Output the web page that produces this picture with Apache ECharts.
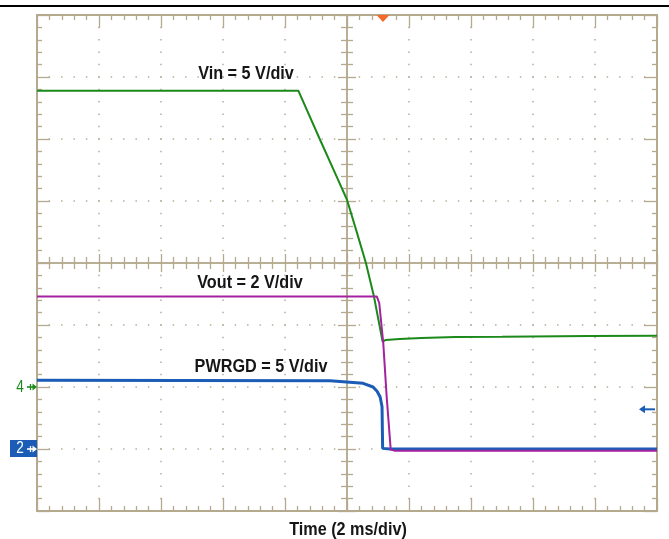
<!DOCTYPE html>
<html><head><meta charset="utf-8">
<script src="https://cdn.jsdelivr.net/npm/echarts@6.0.0/dist/echarts.min.js"></script>
<style>html,body{margin:0;padding:0;background:#fff}#c{width:669px;height:539px}</style>
</head><body><div id="c"></div>
<script>
// time in ms (0 = screen centre), values in screen divisions (0 = centre)
const vinTime  = [-10, -1.57, -0.88, -0.33, 0, 0.32, 0.61, 0.87, 1.15, 1.25, 1.7, 2.4, 3.5, 5, 7.8, 10];
const vinDiv   = [2.78, 2.78, 2.00, 1.39, 1.02, 0.49, 0.00, -0.54, -1.27, -1.24, -1.225, -1.21, -1.195, -1.19, -1.177, -1.173];
const voutTime = [-10, 0.96, 1.04, 1.17, 1.28, 1.41, 1.55, 10];
const voutDiv  = [-0.54, -0.54, -0.645, -1.29, -2.16, -3.01, -3.03, -3.03];
const pgTime   = [-10, -0.55, 0.52, 0.84, 0.97, 1.07, 1.13, 1.15, 1.39, 10];
const pgDiv    = [-1.89, -1.90, -1.94, -2.00, -2.07, -2.16, -2.32, -2.99, -3.0, -3.0];
const labels   = ['Vin = 5 V/div', 'Vout = 2 V/div', 'PWRGD = 5 V/div'];
const xTitle   = 'Time (2 ms/div)';
const ch4Ref = -2, ch2Ref = -3, trigLevel = -2.36, trigTime = 1.16;
const chLabels = ['4', '2'];

const zip = (a, b) => a.map((v, i) => [v, b[i]]);
const TAN = '#b5aa8e', DOT = '#b8af98';
const GREEN = '#1b8a1b', MAG = '#a3229f', BLUE = '#1b5cb6';

function xAx(pos, onZero, tickLen, minorLen, split) {
  return {
    type: 'value', min: -10, max: 10, interval: 2, position: pos,
    axisLine: { show: true, onZero: onZero, onZeroAxisIndex: onZero ? 0 : undefined, lineStyle: { color: TAN, width: onZero ? 1.5 : 2 } },
    axisTick: { show: true, inside: true, length: tickLen, lineStyle: { color: TAN, width: 1.3 } },
    minorTick: { show: true, splitNumber: 5, length: minorLen, lineStyle: { color: TAN, width: 1.3 } },
    splitLine: { show: split, lineStyle: { color: DOT, width: 1.5, type: [1.5, 10.9], dashOffset: 0.75 } },
    axisLabel: { show: false }
  };
}
function yAx(pos, onZero, tickLen, minorLen, split) {
  return {
    type: 'value', min: -4, max: 4, interval: 1, position: pos,
    axisLine: { show: true, onZero: onZero, onZeroAxisIndex: onZero ? 0 : undefined, lineStyle: { color: TAN, width: onZero ? 1.5 : 2 } },
    axisTick: { show: true, inside: true, length: tickLen, lineStyle: { color: TAN, width: 1.3 } },
    minorTick: { show: true, splitNumber: 5, length: minorLen, lineStyle: { color: TAN, width: 1.3 } },
    splitLine: { show: split, lineStyle: { color: DOT, width: 1.5, type: [1.5, 10.9], dashOffset: 0.75 } },
    axisLabel: { show: false }
  };
}

const chart = echarts.init(document.getElementById('c'), null, { renderer: 'canvas' });
chart.setOption({
  animation: false,
  backgroundColor: '#fff',
  grid: { left: 37, top: 15, width: 620, height: 496, outerBoundsMode: 'none', containLabel: false },
  xAxis: [xAx('bottom', false, 13, 5, true), xAx('top', false, 13, 5, false),
          xAx('bottom', true, 9, 6, false), xAx('top', true, 9, 6, false)],
  yAxis: [yAx('left', false, 13, 5, true), yAx('right', false, 13, 5, false),
          yAx('left', true, 9, 6, false), yAx('right', true, 9, 6, false)],
  series: [
    { name: 'Vin', type: 'line', data: zip(vinTime, vinDiv), showSymbol: false, symbol: 'none',
      lineStyle: { color: GREEN, width: 2 }, z: 3 },
    { name: 'PWRGD', type: 'line', data: zip(pgTime, pgDiv), showSymbol: false, symbol: 'none',
      lineStyle: { color: BLUE, width: 3 }, z: 4 },
    { name: 'Vout', type: 'line', data: zip(voutTime, voutDiv), showSymbol: false, symbol: 'none',
      lineStyle: { color: MAG, width: 2 }, z: 5 }
  ]
});

const px = (t, d) => chart.convertToPixel({ xAxisIndex: 0, yAxisIndex: 0 }, [t, d]);
const p4 = px(-10, ch4Ref), p2 = px(-10, ch2Ref), pT = px(10, trigLevel), pTop = px(trigTime, 4);
const lblFont = { fontFamily: 'Liberation Sans, Arial, sans-serif', fontWeight: 'bold', fontSize: 18, fill: '#161616' };
function lbl(text, x, y) {
  return { type: 'text', x: x, y: y, scaleX: 0.9, z: 20,
    style: Object.assign({ text: text, textAlign: 'center', textVerticalAlign: 'middle', align: 'center', verticalAlign: 'middle' }, lblFont) };
}
function arrowRight(x, y, color) {
  return [
    { type: 'line', shape: { x1: x - 10, y1: y, x2: x - 3, y2: y }, style: { stroke: color, lineWidth: 1.6 }, z: 20 },
    { type: 'line', shape: { x1: x - 6.5, y1: y - 3, x2: x - 6.5, y2: y + 3 }, style: { stroke: color, lineWidth: 1.3 }, z: 20 },
    { type: 'polygon', shape: { points: [[x, y], [x - 4.5, y - 3.5], [x - 4.5, y + 3.5]] }, style: { fill: color }, z: 20 }
  ];
}
const g = [
  { type: 'rect', shape: { x: 0, y: 5, width: 669, height: 2 }, style: { fill: '#000' }, z: 20 },
  lbl(labels[0], 246, 74), lbl(labels[1], 250, 283), lbl(labels[2], 261, 367), lbl(xTitle, 348, 530),
  { type: 'text', x: p4[0] - 17, y: p4[1] + 1, z: 20, scaleX: 0.85,
    style: { text: chLabels[0], fontSize: 16, fontFamily: 'Liberation Sans, Arial', fill: GREEN, textAlign: 'center', textVerticalAlign: 'middle', align: 'center', verticalAlign: 'middle' } },
  ...arrowRight(p4[0], p4[1], GREEN),
  { type: 'rect', shape: { x: p2[0] - 27, y: p2[1] - 9, width: 27, height: 17 }, style: { fill: BLUE }, z: 19 },
  { type: 'text', x: p2[0] - 17, y: p2[1], z: 20, scaleX: 0.85,
    style: { text: chLabels[1], fontSize: 16, fontFamily: 'Liberation Sans, Arial', fill: '#fff', textAlign: 'center', textVerticalAlign: 'middle', align: 'center', verticalAlign: 'middle' } },
  ...arrowRight(p2[0], p2[1], '#fff'),
  { type: 'line', shape: { x1: pT[0] - 16, y1: pT[1], x2: pT[0] - 2, y2: pT[1] }, style: { stroke: BLUE, lineWidth: 2 }, z: 20 },
  { type: 'polygon', shape: { points: [[pT[0] - 18, pT[1]], [pT[0] - 12, pT[1] - 4], [pT[0] - 12, pT[1] + 4]] }, style: { fill: BLUE }, z: 20 },
  { type: 'polygon', shape: { points: [[pTop[0] - 6.5, pTop[1]], [pTop[0] + 6.5, pTop[1]], [pTop[0], pTop[1] + 7]] }, style: { fill: '#f5692a' }, z: 20 }
];
chart.setOption({ graphic: g });
</script>
</body></html>
